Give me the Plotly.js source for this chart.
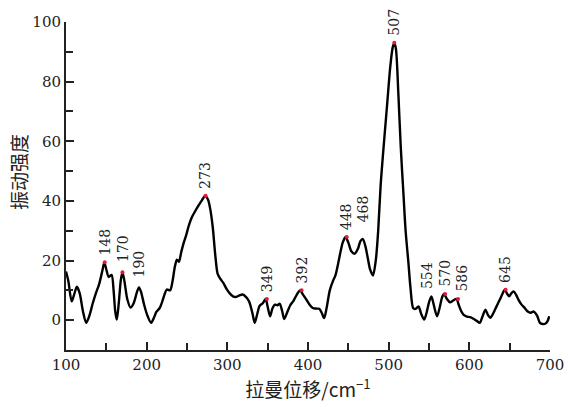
<!DOCTYPE html>
<html>
<head>
<meta charset="utf-8">
<script src="https://cdn.plot.ly/plotly-3.0.1.min.js"></script>
<style>html,body{margin:0;padding:0;background:#fff;}#chart{width:568px;height:407px;}</style>
</head>
<body>
<div id="chart"></div>
<script>
// Raman shift (cm^-1)
const shift = [100,103,107,110,113.5,117,121,125,129,133,137,141,145,147.5,150,153,156.5,159,161,163,165.5,168,170,172.5,176,180,184,188,190.5,193,197,201,205.5,209,212,216,219,222,225,229,232,235,237.5,240,243,246,249,252,256,260,264,268,272.5,276,279,282,285,288,291,295,299,303,307,311,315,319,323,327,331,334,337,340,344,347.5,350,353,356,359,362,365,368,370.5,374,378,382,386,390,394,398,402,406,410,414,417,420,423,427,431,434,437,440,443,446.5,450,454,458,462,465,468,471,474,477,480.5,484,487,490,494,498,502,505,507,509,512,515,518.5,521,524.5,527,530.5,533.5,537,540.5,544,547,550,553,556,560,563.5,566,568.5,572,576,580,584,587,590,593,597,601,605,609,613,616,620,623,626,630,634,638,641,644,647,649.5,652,655,658,661,664.5,668,672,676,680,684,687.5,691,694,697,699];
// Vibration intensity
const intensity = [16.3,13,6.3,8.5,11.2,9,3,-0.9,1.5,5.5,9,12,16.5,19.4,17,14.5,15.2,10,3,0.2,6,13.5,16.1,13,7,4.2,5.8,9.5,11,9.5,5,1.5,-0.9,0.8,2.8,4,6,8.5,10.3,10,13,18,20.3,19.6,23,26,28.5,31.5,34.5,36.5,38.3,40,41.7,40.5,37,31,22,15.5,14,12.5,10.5,9,8,7.8,8.3,8.6,7.8,6.3,2.5,-0.9,2,4.8,5.7,7.1,4.5,1.3,4,5.2,5,5.5,3,0.4,2.5,5,6.5,8.5,10,8.5,6.9,5.2,4.1,3.9,3.8,2.5,0.7,4,10,13.2,15,18.5,22.5,26,27.9,26,23,22.3,24,26.5,27.2,25,21,17,15,20,30,45,59,72,85,91.5,93,91,76,58,41.5,30,19.2,11,4,3.8,4.6,2,0.2,2.5,6,8,5,1.3,4.5,7.5,8.8,7.2,6,6.6,7.1,5,3,1.8,1.2,1,0.5,-0.2,-0.9,1,3.5,1.8,0.8,2.5,4.8,7,8.8,10.2,8.8,8,9,9.6,8.5,6.8,5.3,4.3,3,2.5,2.9,1.5,-0.9,-1.3,-1.2,-0.3,1.3];

// Labelled peaks
const peakShift = [148,170,190,273,349,392,448,468,507,554,570,586,645];
const peakIntensity = [19.4,16.1,11,41.7,7.1,10,27.9,27.2,93,8,8.8,7.1,10.2];
const peakLabels = ['148','170','190','273','349','392','448','468','507','554','570','586','645'];
const peakMarked = [true,true,false,true,true,true,true,false,true,false,true,true,true];

const xTitle = '拉曼位移/cm<sup>−1</sup>';
const yTitle = '振动强度';

const labelShiftX = {554:-5, 586:3};
const labelShiftY = {468:10, 170:3, 190:3};

const serif = 'DejaVu Serif';
const cjk = 'Noto Sans CJK SC';

const traces = [
  {x: shift, y: intensity, type: 'scatter', mode: 'lines',
   line: {color: '#000', width: 2.4, shape: 'spline', smoothing: 0.8},
   showlegend: false},
  {x: peakShift.filter((v,i)=>peakMarked[i]), y: peakIntensity.filter((v,i)=>peakMarked[i]),
   type: 'scatter', mode: 'markers', marker: {color: 'rgb(225,25,60)', size: 4},
   showlegend: false}
];

const annotations = peakShift.map((x,i)=>({
  x: x, y: peakIntensity[i], xref: 'x', yref: 'y', text: peakLabels[i],
  showarrow: false, textangle: -90, xanchor: 'center', yanchor: 'bottom',
  xshift: labelShiftX[x] || 0, yshift: 5 + (labelShiftY[x] || 0),
  font: {family: serif, size: 14, color: '#222'}
}));
// y-axis title (placed as rotated text beside the axis, slightly above centre as in the reference)
annotations.push({
  x: 0, y: 0.5, xref: 'paper', yref: 'paper', text: yTitle,
  showarrow: false, textangle: -90, xanchor: 'center', yanchor: 'middle',
  xshift: -48, yshift: 14,
  font: {family: cjk, size: 19, color: '#222'}
});

const layout = {
  width: 568, height: 407,
  margin: {l: 66, r: 18, t: 22, b: 57},
  paper_bgcolor: '#fff', plot_bgcolor: '#fff',
  showlegend: false,
  font: {family: serif, color: '#222'},
  xaxis: {
    range: [100, 700], tick0: 100, dtick: 100,
    showline: true, linecolor: '#222', linewidth: 2,
    ticks: 'inside', ticklen: 8, tickwidth: 2, tickcolor: '#222',
    minor: {dtick: 50, ticks: 'inside', ticklen: 7, tickwidth: 2, tickcolor: '#222'},
    showgrid: false, zeroline: false,
    tickfont: {family: serif, size: 15, color: '#222'},
    title: {text: xTitle, font: {family: cjk, size: 19, color: '#222'}, standoff: 6}
  },
  yaxis: {
    range: [-10, 100], tick0: 0, dtick: 20,
    showline: true, linecolor: '#222', linewidth: 2,
    ticks: 'inside', ticklen: 8, tickwidth: 2, tickcolor: '#222',
    minor: {dtick: 10, ticks: 'inside', ticklen: 7, tickwidth: 2, tickcolor: '#222'},
    showgrid: false, zeroline: false,
    tickfont: {family: serif, size: 15, color: '#222'}
  },
  annotations: annotations
};

Plotly.newPlot('chart', traces, layout, {displayModeBar: false, staticPlot: true});
</script>
</body>
</html>
